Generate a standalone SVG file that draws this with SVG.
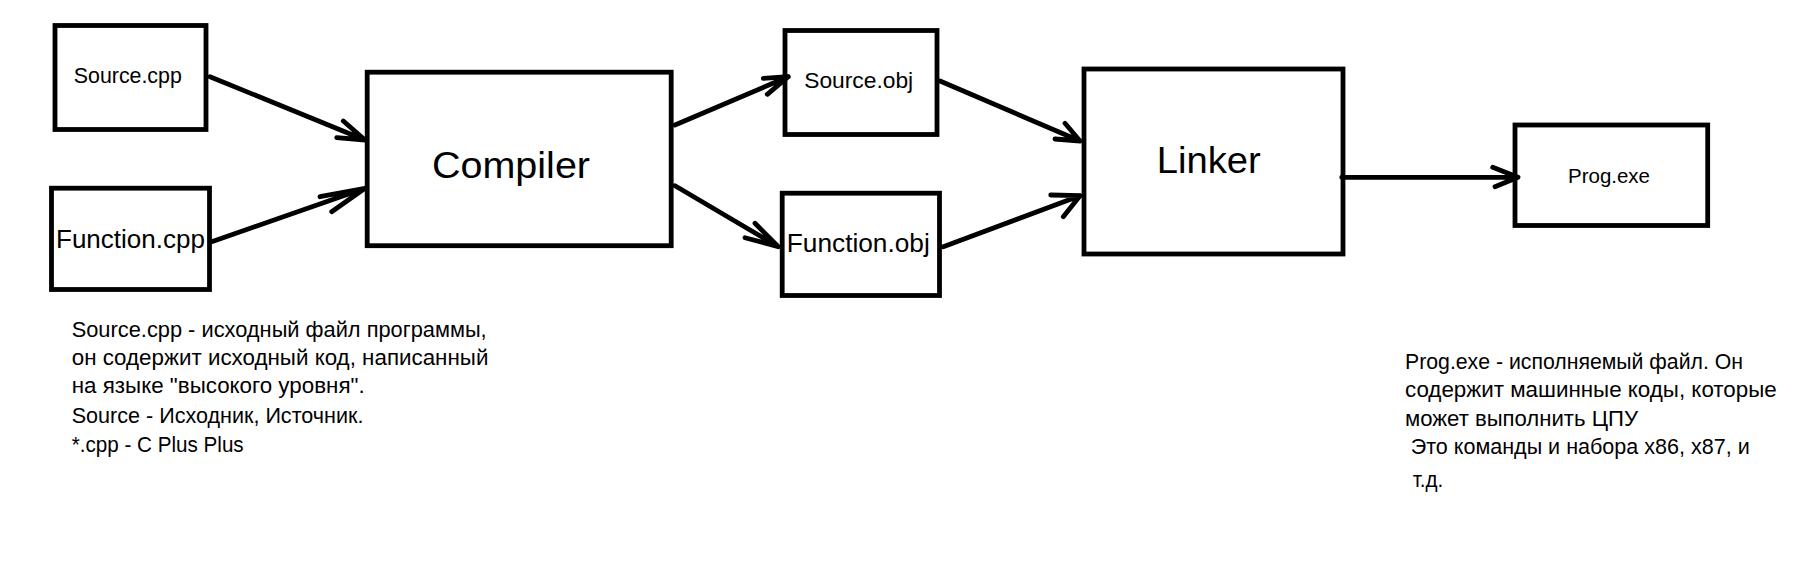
<svg xmlns="http://www.w3.org/2000/svg" width="1796" height="564" viewBox="0 0 1796 564">
<style>
  .box { fill: #ffffff; stroke: #000000; stroke-width: 4.8; }
  .lbl { font-family: "Liberation Sans", Arial, sans-serif; fill: #000000; text-anchor: middle; }
  .note { font-family: "Liberation Sans", Arial, sans-serif; fill: #000000; font-size: 21.5px; }
  .note2 { font-family: "Liberation Sans", Arial, sans-serif; fill: #000000; font-size: 22px; }
  .conn path { fill: none; stroke: #000000; stroke-width: 4.8; stroke-linecap: round; stroke-linejoin: round; }
</style>
<rect x="0" y="0" width="1796" height="564" fill="#ffffff"/>

<g id="source-cpp">
  <rect class="box" x="55" y="25.5" width="151" height="104"/>
  <text class="lbl" x="127.8" y="83.3" font-size="22" textLength="108" lengthAdjust="spacingAndGlyphs">Source.cpp</text>
</g>
<g id="function-cpp">
  <rect class="box" x="51.5" y="188.2" width="158" height="101.3"/>
  <text class="lbl" x="130.5" y="247.7" font-size="26" textLength="149" lengthAdjust="spacingAndGlyphs">Function.cpp</text>
</g>
<g id="compiler">
  <rect class="box" x="367.2" y="72.2" width="304" height="173.5"/>
  <text class="lbl" x="511" y="178.3" font-size="37" textLength="158" lengthAdjust="spacingAndGlyphs">Compiler</text>
</g>
<g id="source-obj">
  <rect class="box" x="785" y="30.5" width="152" height="104"/>
  <text class="lbl" x="858.7" y="87.7" font-size="22.5" textLength="109" lengthAdjust="spacingAndGlyphs">Source.obj</text>
</g>
<g id="function-obj">
  <rect class="box" x="782.2" y="193.2" width="157.3" height="102.3"/>
  <text class="lbl" x="858.3" y="252.3" font-size="25.5" textLength="143" lengthAdjust="spacingAndGlyphs">Function.obj</text>
</g>
<g id="linker">
  <rect class="box" x="1084" y="69" width="259" height="185"/>
  <text class="lbl" x="1208.7" y="172.7" font-size="37" textLength="104" lengthAdjust="spacingAndGlyphs">Linker</text>
</g>
<g id="prog-exe">
  <rect class="box" x="1515" y="125" width="192.7" height="100.5"/>
  <text class="lbl" x="1609" y="183.3" font-size="20.5" textLength="82" lengthAdjust="spacingAndGlyphs">Prog.exe</text>
</g>

<g id="connectors" class="conn">
  <path d="M210 76.7 L365 140 M343.3 121 L365 140 L336.7 137.7"/>
  <path d="M211.7 241.7 L365 188.3 M320 196.7 L365 188.3 L331.7 211.7"/>
  <path d="M675 125 L788.3 76.7 M763.3 78.3 L788.3 76.7 L767.3 94.3"/>
  <path d="M675 185.7 L778.3 246.7 M745 237.7 L778.3 246.7 L755 223.3"/>
  <path d="M940 81 L1080 141 M1055 139 L1080 141 L1065 123.3"/>
  <path d="M943.3 246.7 L1080 195.7 M1050.7 195 L1080 195.7 L1063.3 216.7"/>
  <path d="M1341.7 177.3 L1518 177.3 M1492.7 167.3 L1518 177.3 L1495 186.7"/>
</g>

<g id="note-source">
  <text class="note" x="71.7" y="337.3" textLength="415" lengthAdjust="spacingAndGlyphs">Source.cpp - исходный файл программы,</text>
  <text class="note" x="71.7" y="365" textLength="416.7" lengthAdjust="spacingAndGlyphs">он содержит исходный код, написанный</text>
  <text class="note" x="71.7" y="393.3" textLength="293" lengthAdjust="spacingAndGlyphs">на языке "высокого уровня".</text>
  <text class="note" x="71.7" y="422.7" textLength="291.7" lengthAdjust="spacingAndGlyphs">Source - Исходник, Источник.</text>
  <text class="note" x="71.7" y="451.7" textLength="172" lengthAdjust="spacingAndGlyphs">*.cpp - C Plus Plus</text>
</g>
<g id="note-prog">
  <text class="note2" x="1405" y="369.3" textLength="338" lengthAdjust="spacingAndGlyphs">Prog.exe - исполняемый файл. Он</text>
  <text class="note2" x="1405" y="397.3" textLength="371.7" lengthAdjust="spacingAndGlyphs">содержит машинные коды, которые</text>
  <text class="note2" x="1405" y="426" textLength="233" lengthAdjust="spacingAndGlyphs">может выполнить ЦПУ</text>
  <text class="note2" x="1410.7" y="454.3" textLength="339" lengthAdjust="spacingAndGlyphs">Это команды и набора x86, x87, и</text>
  <text class="note2" x="1412.7" y="486.7" textLength="30.6" lengthAdjust="spacingAndGlyphs">т.д.</text>
</g>
</svg>
